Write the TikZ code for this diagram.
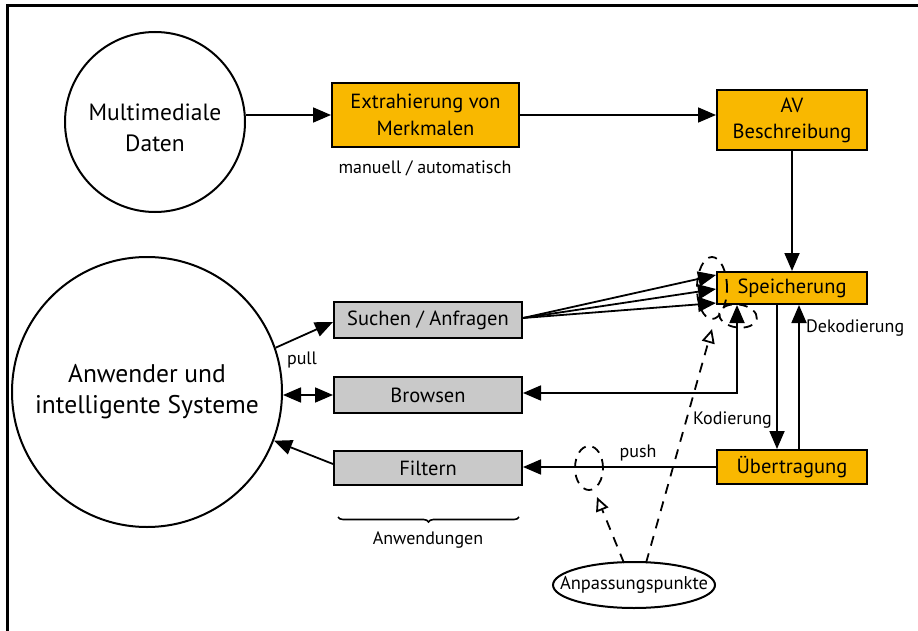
\documentclass[tikz,border=0pt]{standalone}
\usepackage{fontspec}
\setmainfont{PT Sans}
\usetikzlibrary{arrows.meta,decorations.pathreplacing,calc,shapes.geometric}
\definecolor{gold}{HTML}{F9B800}
\definecolor{lightgray}{HTML}{C9C9C9}
\begin{document}
\begin{tikzpicture}[x=1pt,y=-1pt,
  every node/.style={font=\fontsize{18}{22}\selectfont},
  boxfont/.style={font=\fontsize{20.5}{27}\selectfont},
  goldbox/.style={draw,line width=2pt,fill=gold,inner sep=0pt,align=center,boxfont},
  graybox/.style={draw,line width=2pt,fill=lightgray,inner sep=0pt,align=center,boxfont},
  bigcirc/.style={draw,circle,line width=2pt,inner sep=0pt,align=center},
  conn/.style={line width=1.8pt,-{Triangle[length=18pt,width=15pt]}},
  dconn/.style={line width=1.8pt,{Triangle[length=18pt,width=15pt]}-{Triangle[length=18pt,width=15pt]}},
  adapt/.style={line width=1.8pt,dash pattern=on 10pt off 8pt,-{Triangle[open,length=14pt,width=13pt,line width=1.8pt]}},
  mark ring/.style={draw,ellipse,line width=1.8pt,dash pattern=on 9pt off 7pt,inner sep=0pt},
  lbl/.style={inner sep=1pt}]
\useasboundingbox (0,0) rectangle (918,631);
\fill[white] (0,0) rectangle (918,631);
% frame edges
\draw[line width=3pt] (7,631) -- (7,6) -- (918,6);

% sources and users
\node[bigcirc,minimum size=180pt,
      label={[name=datentext,align=center,yshift=-6pt,font=\fontsize{23.5}{31}\selectfont]center:Multimediale\\Daten}] (daten) at (155,122) {};
\node[bigcirc,minimum size=270pt,font=\fontsize{25.5}{31}\selectfont] (user) at (147,392) {Anwender und\\intelligente Systeme};

% processing chain
\node[goldbox,minimum width=187pt,minimum height=64pt] (extr) at (425.5,115) {Extrahierung von\\Merkmalen};
\node[goldbox,minimum width=150pt,minimum height=60pt,font=\fontsize{20.5}{26}\selectfont] (av) at (792,120) {AV\\Beschreibung};
\node[goldbox,minimum width=150pt,minimum height=32pt] (speich) at (792,288) {Speicherung};
\node[goldbox,minimum width=150pt,minimum height=34pt] (uebert) at (792,467) {Übertragung};

% applications
\node[graybox,minimum width=188pt,minimum height=36pt] (suchen) at (428,320) {Suchen / Anfragen};
\node[graybox,minimum width=188pt,minimum height=36pt] (browsen) at (428,395) {Browsen};
\node[graybox,minimum width=188pt,minimum height=34pt] (filtern) at (428,468) {Filtern};

\node[draw,ellipse,line width=2pt,minimum width=162pt,minimum height=46pt,inner sep=0pt,
      label={[name=anpasstext,font=\fontsize{18.5}{22}\selectfont]center:Anpassungspunkte}] (anpass) at (634,585) {};

% labels
\node[lbl] (manuell) at (425,168) {manuell / automatisch};
\node[lbl] (pull) at (302,360) {pull};
\node[lbl] (push) at (638,453) {push};
\node[lbl,anchor=east] (kodier) at (773,420) {Kodierung};
\node[lbl,anchor=west] (dekodier) at (805,328) {Dekodierung};
\node[lbl] (anwend) at (428,540) {Anwendungen};

% main flow
\draw[conn] (daten.east |- extr.west) -- (extr.west);
\draw[conn] (extr.east) -- (extr.east -| av.west);
\draw[conn] (av.south) -- (speich.north);

% queries fan into storage
\coordinate (qs) at ($(suchen.east)+(0,-2)$);
\draw[conn] (qs) -- ($(speich.north west)+(0,4)$);
\draw[conn] (qs) -- ($(speich.west)+(0,1)$);
\draw[conn] (qs) -- ($(speich.south west)+(0,-2)$);

% browsing both ways
\coordinate (bcorner) at (737,393);
\draw[dconn] (browsen.east |- bcorner) -- (bcorner) -- (bcorner |- speich.south);
\draw[dconn] (user.east |- browsen.west) -- (browsen.west);
\draw[conn] (user.19) -- ($(suchen.west)+(0,2)$);
\draw[conn] ($(filtern.west)+(0,-4)$) -- (user.-21);

% coding / decoding
\draw[conn] ($(speich.south)+(-15,0)$) -- ($(uebert.north)+(-15,0)$);
\draw[conn] ($(uebert.north)+(7,0)$) -- ($(speich.south)+(7,0)$);
\draw[conn] (uebert.west) -- (uebert.west -| filtern.east);

% adaptation points
\node[mark ring,minimum width=28pt,minimum height=44pt] (ringpush) at (589,468) {};
\node[mark ring,minimum width=30pt,minimum height=62pt] (ringsearch) at (712,288) {};
\node[mark ring,minimum width=38pt,minimum height=23pt,rotate=-8] (ringbrowse) at (738,316) {};
\coordinate (tippush) at (597,497);
\coordinate (tipsearch) at (712,329);
\draw[adapt] ($(anpass.north)+(-10,2)$) -- (tippush);
\draw[adapt] ($(anpass.north)+(12,2)$) -- (tipsearch);

% brace over the applications
\draw[line width=1.6pt,decorate,decoration={brace,mirror,amplitude=5pt}] (338,517) -- (519,517);
\end{tikzpicture}
\end{document}
